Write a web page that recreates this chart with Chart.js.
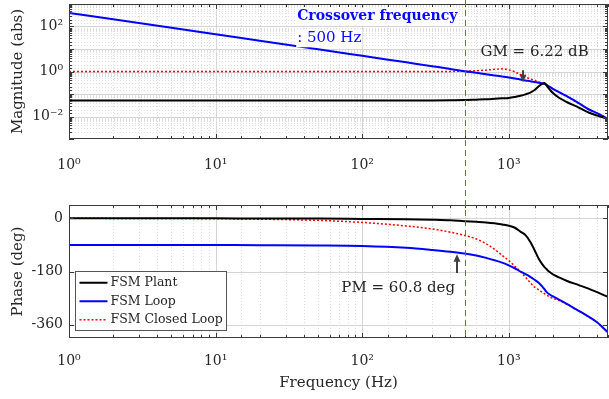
<!DOCTYPE html>
<html>
<head>
<meta charset="utf-8">
<script src="https://cdn.jsdelivr.net/npm/chart.js@4.4.1/dist/chart.umd.min.js"></script>
<style>
  html, body { margin: 0; padding: 0; background: #fff; }
  #wrap { position: relative; width: 609px; height: 399px; }
  #magChart { position: absolute; left: 0; top: 0; }
  #phaseChart { position: absolute; left: 0; top: 190px; }
</style>
</head>
<body>
<div id="wrap">
  <canvas id="magChart" width="609" height="190"></canvas>
  <canvas id="phaseChart" width="609" height="209"></canvas>
</div>
<script>
// frequency points (Hz)
const freq = [1, 2, 5, 10, 20, 50, 100, 200, 300, 400, 500, 600, 700, 800, 900, 1000, 1100, 1200, 1300, 1400, 1500, 1600, 1700, 1750, 1800, 1900, 2000, 2200, 2500, 3000, 3500, 4000, 4750];

// magnitude (abs)
const plantMag  = [0.051, 0.051, 0.051, 0.051, 0.051, 0.051, 0.051, 0.051, 0.052, 0.053, 0.054, 0.056, 0.058, 0.061, 0.064, 0.067, 0.074, 0.083, 0.096, 0.115, 0.15, 0.22, 0.29, 0.31, 0.25, 0.16, 0.11, 0.068, 0.043, 0.025, 0.015, 0.011, 0.008];
const loopMag   = [400, 210, 88, 45, 23.5, 9.8, 5.0, 2.55, 1.72, 1.3, 1.03, 0.88, 0.76, 0.67, 0.60, 0.54, 0.49, 0.44, 0.40, 0.37, 0.34, 0.315, 0.295, 0.285, 0.26, 0.21, 0.17, 0.12, 0.078, 0.039, 0.021, 0.014, 0.008];
const closedMag = [1, 1, 1, 1, 1, 1, 1, 1, 1, 1.01, 1.03, 1.08, 1.15, 1.25, 1.31, 1.18, 0.97, 0.74, 0.57, 0.47, 0.40, 0.345, 0.30, 0.285, 0.26, 0.21, 0.17, 0.12, 0.078, 0.039, 0.021, 0.014, 0.008];

// phase (deg)
const plantPhase  = [0, 0, 0, -0.2, -0.4, -1, -2, -3, -5, -7, -10, -12, -14, -17, -21, -25, -32, -45, -57, -79, -108, -137, -157, -165, -171, -182, -190, -200, -212, -226, -238, -250, -266];
const loopPhase   = [-90, -90, -90, -90.5, -91, -92, -94, -100, -107, -113, -119, -126, -134, -142, -150, -159, -169, -180, -189, -198, -208, -218, -232, -240, -248, -258, -264, -275, -290, -313, -333, -352, -386];
const closedPhase = [0, -0.3, -0.7, -1.5, -3, -7, -14, -26, -36, -47, -58, -70, -86, -105, -125, -143, -162, -180, -199, -218, -233, -242, -251, -255, -259, -266, -271, -278, -291, -313, -333, -352, -386];

const phaseTicks = [-360, -180, 0];
const crossoverFreq = 500;

const serif = '"DejaVu Serif", serif';
const ink = '#262626';
const sup = { '-': '\u207B', '0': '\u2070', '1': '\u00B9', '2': '\u00B2', '3': '\u00B3' };

function isDecade(v) {
  const e = Math.log10(v);
  return Math.abs(e - Math.round(e)) < 1e-6;
}
function decadeLabel(v) {
  if (!isDecade(v)) return '';
  return '10' + String(Math.round(Math.log10(v))).split('').map(c => sup[c]).join('');
}

function series(label, ys, color, dash, width) {
  return {
    label: label,
    data: freq.map((f, i) => ({ x: f, y: ys[i] })),
    borderColor: color,
    backgroundColor: color,
    borderWidth: width,
    borderDash: dash,
    pointRadius: 0,
    fill: false,
    cubicInterpolationMode: 'monotone'
  };
}

// grid, box and inward tick marks in MATLAB style
const boxGrid = {
  id: 'boxGrid',
  beforeDatasetsDraw(chart) {
    const { ctx, chartArea: a, scales: { x, y } } = chart;
    ctx.save();
    ctx.lineWidth = 1;
    x.ticks.forEach(t => {
      const px = Math.round(x.getPixelForValue(t.value)) + 0.5;
      if (px < a.left + 1 || px > a.right - 1) return;
      const major = isDecade(t.value);
      ctx.strokeStyle = major ? '#d4d4d4' : '#dedede';
      ctx.setLineDash(major ? [] : [1, 2]);
      ctx.beginPath(); ctx.moveTo(px, a.top); ctx.lineTo(px, a.bottom); ctx.stroke();
    });
    const logY = y.type === 'logarithmic';
    y.ticks.forEach(t => {
      const py = Math.round(y.getPixelForValue(t.value)) + 0.5;
      if (py < a.top + 1 || py > a.bottom - 1) return;
      const major = !logY || isDecade(t.value);
      ctx.strokeStyle = major ? '#d4d4d4' : '#dedede';
      ctx.setLineDash(major ? [] : [1, 2]);
      ctx.beginPath(); ctx.moveTo(a.left, py); ctx.lineTo(a.right, py); ctx.stroke();
    });
    ctx.restore();
  },
  afterDatasetsDraw(chart) {
    const { ctx, chartArea: a, scales: { x, y } } = chart;
    ctx.save();
    ctx.strokeStyle = '#3a3a3a';
    ctx.lineWidth = 1;
    ctx.setLineDash([]);
    x.ticks.forEach(t => {
      const px = Math.round(x.getPixelForValue(t.value)) + 0.5;
      const len = isDecade(t.value) ? 5 : 3;
      ctx.beginPath();
      ctx.moveTo(px, a.bottom); ctx.lineTo(px, a.bottom - len);
      ctx.moveTo(px, a.top); ctx.lineTo(px, a.top + len);
      ctx.stroke();
    });
    const logY = y.type === 'logarithmic';
    y.ticks.forEach(t => {
      const py = Math.round(y.getPixelForValue(t.value)) + 0.5;
      const len = (!logY || isDecade(t.value)) ? 5 : 3;
      ctx.beginPath();
      ctx.moveTo(a.left, py); ctx.lineTo(a.left + len, py);
      ctx.moveTo(a.right, py); ctx.lineTo(a.right - len, py);
      ctx.stroke();
    });
    ctx.strokeRect(Math.round(a.left) + 0.5, Math.round(a.top) + 0.5, Math.round(a.width) - 1, Math.round(a.height) - 1);
    ctx.restore();
  }
};

function crossoverLine(chart, yEnd) {
  const { ctx, scales: { x } } = chart;
  const px = Math.round(x.getPixelForValue(crossoverFreq)) + 0.5;
  ctx.save();
  ctx.strokeStyle = 'rgb(90,90,255)';
  ctx.lineWidth = 1;
  ctx.setLineDash([6, 4]);
  ctx.beginPath(); ctx.moveTo(px, 0); ctx.lineTo(px, yEnd); ctx.stroke();
  ctx.restore();
}

function arrow(ctx, x, y0, y1) {
  const dir = Math.sign(y1 - y0);
  ctx.save();
  ctx.strokeStyle = '#404040';
  ctx.fillStyle = '#404040';
  ctx.lineWidth = 2;
  ctx.beginPath(); ctx.moveTo(x, y0); ctx.lineTo(x, y1 - dir * 6); ctx.stroke();
  ctx.beginPath();
  ctx.moveTo(x, y1);
  ctx.lineTo(x - 3.5, y1 - dir * 7.5);
  ctx.lineTo(x + 3.5, y1 - dir * 7.5);
  ctx.closePath();
  ctx.fill();
  ctx.restore();
}

const magNotes = {
  id: 'magNotes',
  afterDraw(chart) {
    const { ctx, scales: { x, y } } = chart;
    crossoverLine(chart, chart.height);
    ctx.save();
    // crossover label
    const tx = x.getPixelForValue(36);
    ctx.textBaseline = 'middle';
    ctx.textAlign = 'left';
    ctx.font = 'bold 14px ' + serif;
    const w1 = ctx.measureText('Crossover frequency').width;
    const y1 = y.getPixelForValue(280);
    const y2 = y.getPixelForValue(30);
    ctx.fillStyle = '#fff';
    ctx.fillRect(tx - 1, y1 - 9, w1 + 2, 18);
    ctx.font = '15px ' + serif;
    const w2 = ctx.measureText(': 500 Hz').width;
    ctx.fillRect(tx - 1, y2 - 9, w2 + 2, 18);
    ctx.fillStyle = '#0a0aff';
    ctx.font = 'bold 14px ' + serif;
    ctx.fillText('Crossover frequency', tx, y1);
    ctx.font = '15px ' + serif;
    ctx.fillText(': 500 Hz', tx, y2);
    // gain margin
    ctx.fillStyle = ink;
    ctx.textAlign = 'center';
    ctx.fillText('GM = 6.22 dB', x.getPixelForValue(1500), y.getPixelForValue(7.5));
    ctx.restore();
    const ax = Math.round(x.getPixelForValue(1250));
    arrow(ctx, ax, y.getPixelForValue(1.15), y.getPixelForValue(0.33));
  }
};

const phaseNotes = {
  id: 'phaseNotes',
  afterDraw(chart) {
    const { ctx, chartArea: a, scales: { x, y } } = chart;
    crossoverLine(chart, a.bottom);
    ctx.save();
    ctx.fillStyle = ink;
    ctx.font = '15px ' + serif;
    ctx.textAlign = 'center';
    ctx.textBaseline = 'middle';
    ctx.fillText('PM = 60.8 deg', x.getPixelForValue(176), y.getPixelForValue(-235));
    ctx.restore();
    arrow(ctx, Math.round(x.getPixelForValue(440)), y.getPixelForValue(-185), y.getPixelForValue(-122));

    // legend box in the lower left corner
    const ds = chart.data.datasets;
    ctx.save();
    ctx.font = '12.5px ' + serif;
    const tw = Math.max(...ds.map(d => ctx.measureText(d.label).width));
    const rowH = 18.5;
    const bx = Math.round(a.left) + 6.5;
    const bw = Math.round(4 + 28 + 3 + tw + 4);
    const bh = Math.round(ds.length * rowH + 3);
    const by = Math.round(a.bottom) - 7.5 - bh;
    ctx.fillStyle = '#fff';
    ctx.fillRect(bx, by, bw, bh);
    ctx.strokeStyle = '#555';
    ctx.lineWidth = 1;
    ctx.strokeRect(bx, by, bw, bh);
    ds.forEach((d, i) => {
      const cy = by + 2 + rowH * (i + 0.5);
      ctx.strokeStyle = d.borderColor;
      ctx.lineWidth = d.borderWidth;
      ctx.setLineDash(d.borderDash || []);
      ctx.beginPath(); ctx.moveTo(bx + 4, cy); ctx.lineTo(bx + 32, cy); ctx.stroke();
      ctx.fillStyle = ink;
      ctx.textAlign = 'left';
      ctx.textBaseline = 'middle';
      ctx.fillText(d.label, bx + 35, cy);
    });
    ctx.restore();
  }
};

function noPad(s) {
  s.paddingLeft = 0;
  s.paddingRight = 0;
  s.paddingTop = 0;
  s.paddingBottom = 0;
}

function xAxis(height, labelPad, withTitle) {
  return {
    type: 'logarithmic',
    min: 1,
    max: 4750,
    afterFit(s) { s.height = height; noPad(s); },
    grid: { display: false, drawTicks: false },
    border: { display: false },
    ticks: {
      autoSkip: false,
      maxRotation: 0,
      padding: labelPad,
      color: ink,
      font: { family: serif, size: 14 },
      callback: v => decadeLabel(v)
    },
    title: {
      display: withTitle,
      text: 'Frequency (Hz)',
      color: ink,
      font: { family: serif, size: 15 },
      padding: { top: 0, bottom: 7 }
    }
  };
}

function yTitle(text) {
  return { display: true, text: text, color: ink, font: { family: serif, size: 15 }, padding: { top: 9, bottom: 0 } };
}

const common = {
  responsive: false,
  animation: false,
  devicePixelRatio: 1,
  plugins: { legend: { display: false }, tooltip: { enabled: false } }
};

new Chart(document.getElementById('magChart'), {
  type: 'line',
  data: {
    datasets: [
      series('FSM Plant', plantMag, '#000000', [], 2),
      series('FSM Loop', loopMag, '#0000ff', [], 2),
      series('FSM Closed Loop', closedMag, '#ff0000', [2, 2], 1.5)
    ]
  },
  options: Object.assign({}, common, {
    layout: { padding: { top: 4, right: 1, left: 0, bottom: 0 } },
    scales: {
      x: xAxis(51, 18, false),
      y: {
        type: 'logarithmic',
        min: 1e-3,
        max: 1e3,
        afterFit(s) { s.width = 69; noPad(s); },
        grid: { display: false, drawTicks: false },
        border: { display: false },
        ticks: {
          autoSkip: false,
          padding: 6,
          color: ink,
          font: { family: serif, size: 14 },
          callback: v => {
            const e = Math.round(Math.log10(v));
            return (isDecade(v) && e % 2 === 0 && Math.abs(e) < 3) ? decadeLabel(v) : '';
          }
        },
        title: yTitle('Magnitude (abs)')
      }
    }
  }),
  plugins: [boxGrid, magNotes]
});

new Chart(document.getElementById('phaseChart'), {
  type: 'line',
  data: {
    datasets: [
      series('FSM Plant', plantPhase, '#000000', [], 2),
      series('FSM Loop', loopPhase, '#0000ff', [], 2),
      series('FSM Closed Loop', closedPhase, '#ff0000', [2, 2], 1.5)
    ]
  },
  options: Object.assign({}, common, {
    layout: { padding: { top: 15, right: 1, left: 0, bottom: 0 } },
    scales: {
      x: xAxis(61, 15, true),
      y: {
        type: 'linear',
        min: -405,
        max: 45,
        afterFit(s) { s.width = 69; noPad(s); },
        afterBuildTicks(s) { s.ticks = phaseTicks.map(v => ({ value: v })); },
        grid: { display: false, drawTicks: false },
        border: { display: false },
        ticks: {
          autoSkip: false,
          padding: 6,
          color: ink,
          font: { family: serif, size: 14 },
          callback: v => String(v)
        },
        title: yTitle('Phase (deg)')
      }
    }
  }),
  plugins: [boxGrid, phaseNotes]
});
</script>
</body>
</html>
